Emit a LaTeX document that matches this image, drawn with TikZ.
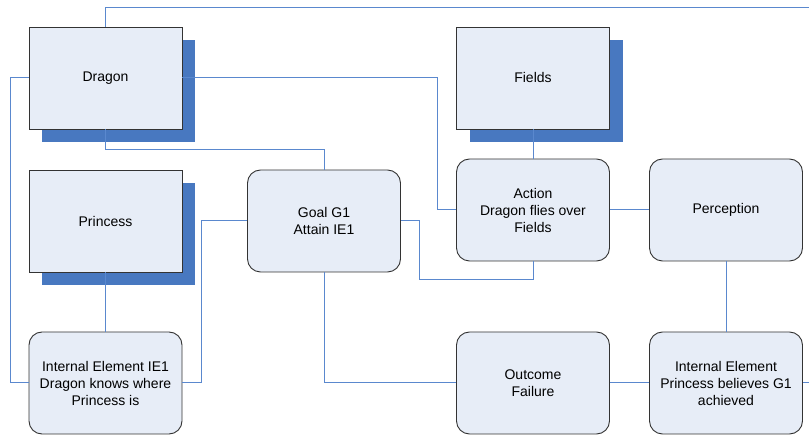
\documentclass[tikz,border=0pt]{standalone}
\usepackage{fontspec}
\setmainfont{Liberation Sans}
\usetikzlibrary{shadows}
\definecolor{boxfill}{HTML}{E7EDF7}
\definecolor{boxline}{HTML}{333333}
\definecolor{shadowblue}{HTML}{4878C0}
\definecolor{linkblue}{HTML}{5A88CE}
\tikzset{
  base/.style={draw=boxline, line width=0.9pt, fill=boxfill, minimum width=153pt,
    minimum height=102pt, inner sep=0pt, align=center, font=\fontsize{14pt}{17pt}\selectfont},
  entity/.style={base, rectangle,
    drop shadow={shadow xshift=13pt, shadow yshift=-13pt, fill=shadowblue, draw=none, opacity=1}},
  event/.style={base, rounded corners=13pt},
  link/.style={draw=linkblue, line width=1pt}
}
\begin{document}
\begin{tikzpicture}[x=1pt, y=-1pt]
\useasboundingbox (0,0) rectangle (809,435);

% entities with shadows
\node[entity] (dragon)   at (105.5,78)  {Dragon};
\node[entity] (princess) at (105.5,221) {Princess};
\node[entity] (fields)   at (533,78)    {Fields};

% story events
\node[event] (ie1)     at (105.5,383) {Internal Element IE1\\Dragon knows where\\Princess is};
\node[event] (goal)    at (324,221)   {Goal G1\\Attain IE1};
\node[event] (action)  at (533,210)   {Action\\Dragon flies over\\Fields};
\node[event] (percept) at (726,210)   {Perception};
\node[event] (outcome) at (533,383)   {Outcome\\Failure};
\node[event] (ie2)     at (726,383)   {Internal Element\\Princess believes G1\\achieved};

% routing points
\coordinate (topL)  at (105.5,8);
\coordinate (topR)  at (809,8);
\coordinate (dEast) at (437,78);
\coordinate (dLow)  at (105.5,150);
\coordinate (dWest) at (10,78);
\coordinate (gWest) at (201,221);
\coordinate (gEast) at (419,221);
\coordinate (gLow)  at (419,280);
\coordinate (aLow)  at (533,280);
\coordinate (rEnd)  at (809,383);

% connectors
\draw[link] (dragon.north) -- (topL) -- (topR);
\draw[link] (dragon.east) -- (dEast) |- (action.west);
\draw[link] (dragon.south) -- (dLow) -| (goal.north);
\draw[link] (dragon.west) -- (dWest) |- (ie1.west);
\draw[link] (princess.south) -- (ie1.north);
\draw[link] (goal.west) -- (gWest) |- (ie1.east);
\draw[link] (goal.east) -- (gEast) -- (gLow) -- (aLow) -- (action.south);
\draw[link] (fields.south) -- (action.north);
\draw[link] (action.east) -- (percept.west);
\draw[link] (percept.south) -- (ie2.north);
\draw[link] (goal.south) |- (outcome.west);
\draw[link] (outcome.east) -- (ie2.west);
\draw[link] (ie2.east) -- (rEnd);
\end{tikzpicture}
\end{document}
